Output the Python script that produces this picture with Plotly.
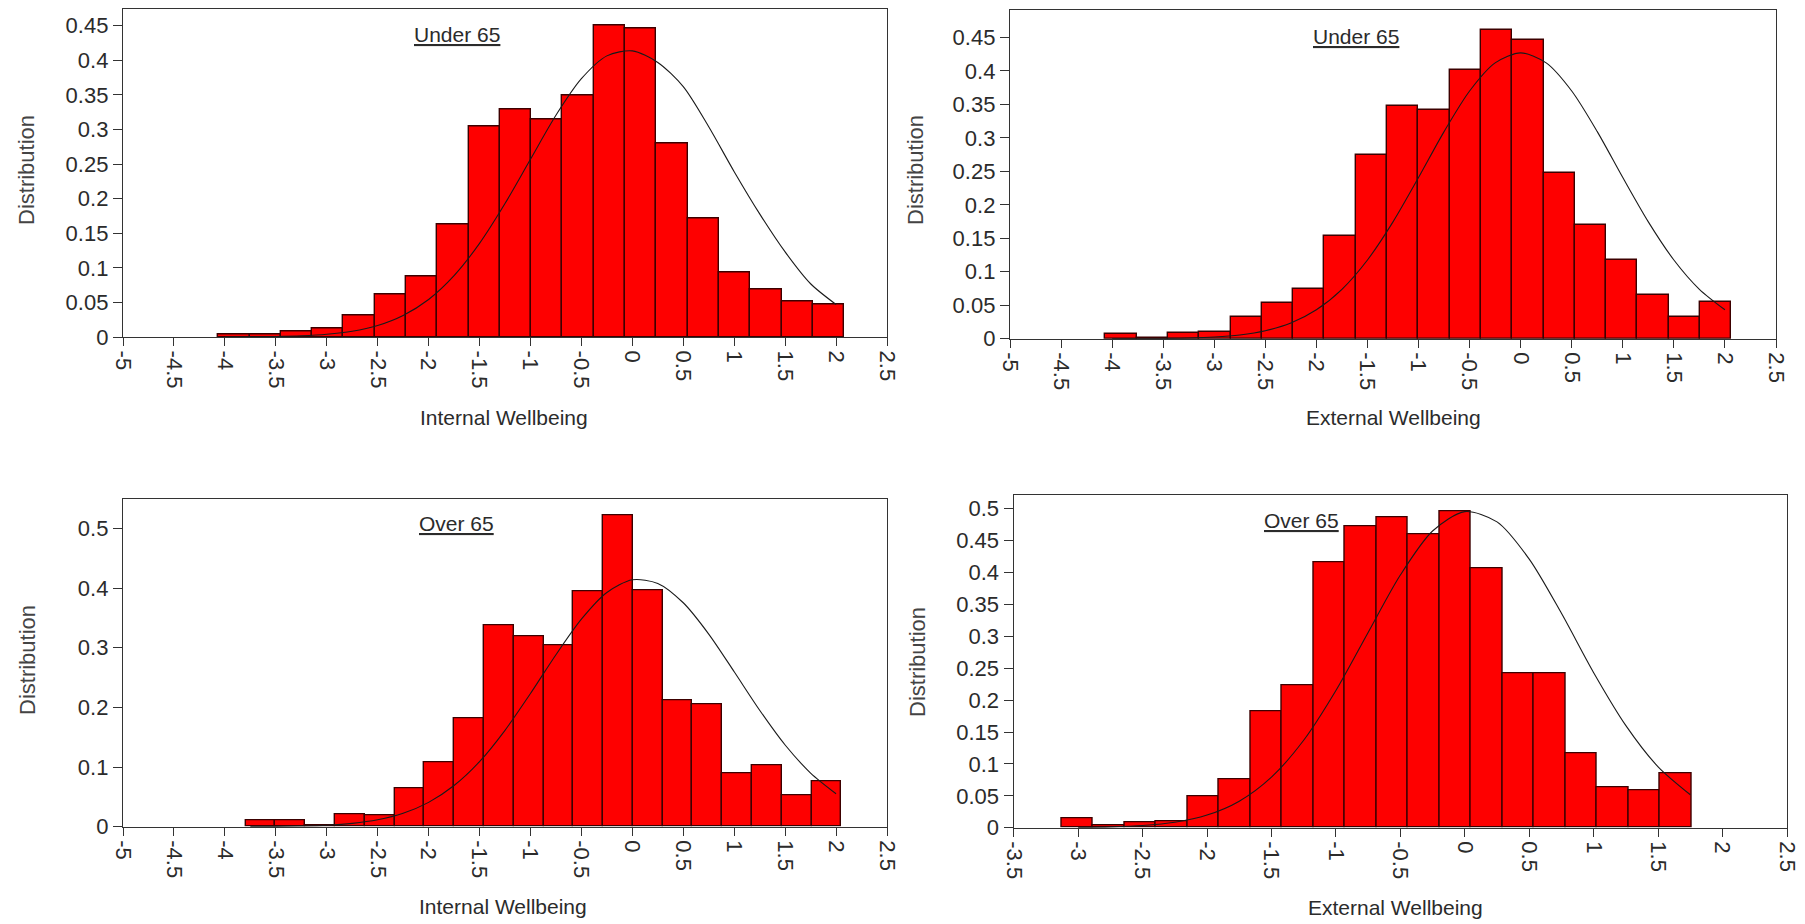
import plotly.graph_objects as go

# ---------------------------------------------------------------------------
# Data: histogram densities (20 equal-width bins per panel) and the fitted
# normal density curve drawn over each histogram.
# ---------------------------------------------------------------------------

# Internal wellbeing, under 65
int_u65_bin_start = -4.065
int_u65_bin_width = 0.3072
int_u65_density = [0.004, 0.003, 0.0077, 0.0126, 0.0304, 0.0609, 0.0874, 0.1633,
                   0.305, 0.329, 0.315, 0.349, 0.4507, 0.4464, 0.2793, 0.171,
                   0.0937, 0.0691, 0.0507, 0.0468]
int_u65_curve_x = [-4.0, -3.75, -3.5, -3.25, -3.0, -2.75, -2.5, -2.25, -2.0, -1.75,
                   -1.5, -1.25, -1.0, -0.75, -0.5, -0.25, 0.0, 0.25, 0.5, 0.75,
                   1.0, 1.25, 1.5, 1.75, 2.0]
int_u65_curve_y = [0.0001, 0.0003, 0.0007, 0.0017, 0.0039, 0.0083, 0.0167, 0.0312,
                   0.0543, 0.0888, 0.1354, 0.193, 0.257, 0.3206, 0.3735, 0.4065,
                   0.4137, 0.397, 0.362, 0.304, 0.239, 0.178, 0.123, 0.077, 0.047]

# External wellbeing, under 65
ext_u65_bin_start = -4.066
ext_u65_bin_width = 0.3064
ext_u65_density = [0.0065, 0.0015, 0.009, 0.0105, 0.032, 0.053, 0.074, 0.153,
                   0.274, 0.348, 0.3414, 0.401, 0.4609, 0.446, 0.2478, 0.1698,
                   0.1175, 0.0652, 0.032, 0.0543]
ext_u65_curve_x = [-4.0, -3.75, -3.5, -3.25, -3.0, -2.75, -2.5, -2.25, -2.0, -1.75,
                   -1.5, -1.25, -1.0, -0.75, -0.5, -0.25, 0.0, 0.25, 0.5, 0.75,
                   1.0, 1.25, 1.5, 1.75, 2.0]
ext_u65_curve_y = [0.00004, 0.0001, 0.0004, 0.001, 0.0025, 0.0056, 0.0119, 0.0234,
                   0.0432, 0.0738, 0.1176, 0.1745, 0.2407, 0.3093, 0.370, 0.412,
                   0.427, 0.412, 0.370, 0.3093, 0.2407, 0.1745, 0.1176, 0.0738, 0.0432]

# Internal wellbeing, over 65
int_o65_bin_start = -3.797
int_o65_bin_width = 0.2925
int_o65_density = [0.010, 0.010, 0.002, 0.020, 0.0196, 0.064, 0.1085, 0.182,
                   0.337, 0.319, 0.3037, 0.3943, 0.5218, 0.396, 0.2126, 0.2059,
                   0.0896, 0.1035, 0.052, 0.0755]
int_o65_curve_x = [-3.75, -3.5, -3.25, -3.0, -2.75, -2.5, -2.25, -2.0, -1.75, -1.5,
                   -1.25, -1.0, -0.75, -0.5, -0.25, 0.0, 0.25, 0.5, 0.75, 1.0,
                   1.25, 1.5, 1.75, 2.0]
int_o65_curve_y = [0.0002, 0.0004, 0.0011, 0.0025, 0.0056, 0.0116, 0.0225, 0.0408,
                   0.069, 0.109, 0.1616, 0.2233, 0.2884, 0.348, 0.3927, 0.414,
                   0.408, 0.3755, 0.323, 0.2598, 0.1953, 0.137, 0.090, 0.0553]

# External wellbeing, over 65
ext_o65_bin_start = -3.130
ext_o65_bin_width = 0.2444
ext_o65_density = [0.014, 0.0037, 0.0084, 0.0094, 0.0496, 0.0763, 0.183, 0.223,
                   0.4154, 0.4729, 0.4865, 0.4603, 0.4953, 0.406, 0.242, 0.242,
                   0.1166, 0.0627, 0.058, 0.0853]
ext_o65_curve_x = [-3.0, -2.75, -2.5, -2.25, -2.0, -1.75, -1.5, -1.25, -1.0, -0.75,
                   -0.5, -0.25, 0.0, 0.25, 0.5, 0.75, 1.0, 1.25, 1.5, 1.75]
ext_o65_curve_y = [0.0004, 0.0012, 0.0034, 0.0086, 0.0198, 0.0416, 0.0793, 0.137,
                   0.215, 0.306, 0.396, 0.465, 0.4954, 0.4794, 0.421, 0.336,
                   0.243, 0.160, 0.0954, 0.0516]

# Tick values and labels
x_ticks_wide = [-5, -4.5, -4, -3.5, -3, -2.5, -2, -1.5, -1, -0.5, 0, 0.5, 1, 1.5, 2, 2.5]
x_labels_wide = ["-5", "-4.5", "-4", "-3.5", "-3", "-2.5", "-2", "-1.5", "-1", "-0.5",
                 "0", "0.5", "1", "1.5", "2", "2.5"]
x_ticks_narrow = [-3.5, -3, -2.5, -2, -1.5, -1, -0.5, 0, 0.5, 1, 1.5, 2, 2.5]
x_labels_narrow = ["-3.5", "-3", "-2.5", "-2", "-1.5", "-1", "-0.5", "0", "0.5", "1",
                   "1.5", "2", "2.5"]
y_ticks_045 = [0, 0.05, 0.1, 0.15, 0.2, 0.25, 0.3, 0.35, 0.4, 0.45]
y_labels_045 = ["0", "0.05", "0.1", "0.15", "0.2", "0.25", "0.3", "0.35", "0.4", "0.45"]
y_ticks_05_coarse = [0, 0.1, 0.2, 0.3, 0.4, 0.5]
y_labels_05_coarse = ["0", "0.1", "0.2", "0.3", "0.4", "0.5"]
y_ticks_05_fine = [0, 0.05, 0.1, 0.15, 0.2, 0.25, 0.3, 0.35, 0.4, 0.45, 0.5]
y_labels_05_fine = ["0", "0.05", "0.1", "0.15", "0.2", "0.25", "0.3", "0.35", "0.4",
                    "0.45", "0.5"]

group_labels = ["Under 65", "Under 65", "Over 65", "Over 65"]
x_titles = ["Internal Wellbeing", "External Wellbeing", "Internal Wellbeing",
            "External Wellbeing"]
y_title = "Distribution"

# ---------------------------------------------------------------------------
# Page geometry (pixels) for the four plot frames
# ---------------------------------------------------------------------------
W, H = 1805, 924
FONT = "Liberation Sans, Arial, sans-serif"
TEXT = "#2b2b2b"
FRAME = "#333333"


def px_x(p):
    return p / W


def px_y(p):
    return 1 - p / H


panels = [
    dict(start=int_u65_bin_start, width=int_u65_bin_width, dens=int_u65_density,
         cx=int_u65_curve_x, cy=int_u65_curve_y,
         box=(123, 887, 8.5, 337), xr=(-5, 2.5), yr=(0, 0.475),
         xt=(x_ticks_wide, x_labels_wide), yt=(y_ticks_045, y_labels_045),
         label_at=(-1.72, 0.437), xtitle_at=(504, 418), ytitle_at=(27, 170)),
    dict(start=ext_u65_bin_start, width=ext_u65_bin_width, dens=ext_u65_density,
         cx=ext_u65_curve_x, cy=ext_u65_curve_y,
         box=(1010, 1776, 10, 338.7), xr=(-5, 2.5), yr=(0, 0.491),
         xt=(x_ticks_wide, x_labels_wide), yt=(y_ticks_045, y_labels_045),
         label_at=(-1.61, 0.452), xtitle_at=(1393, 418), ytitle_at=(916, 170)),
    dict(start=int_o65_bin_start, width=int_o65_bin_width, dens=int_o65_density,
         cx=int_o65_curve_x, cy=int_o65_curve_y,
         box=(123, 887, 499.3, 826.7), xr=(-5, 2.5), yr=(0, 0.549),
         xt=(x_ticks_wide, x_labels_wide), yt=(y_ticks_05_coarse, y_labels_05_coarse),
         label_at=(-1.73, 0.508), xtitle_at=(503, 906), ytitle_at=(27, 660)),
    dict(start=ext_o65_bin_start, width=ext_o65_bin_width, dens=ext_o65_density,
         cx=ext_o65_curve_x, cy=ext_o65_curve_y,
         box=(1013.7, 1787, 495.3, 827.7), xr=(-3.5, 2.5), yr=(0, 0.521),
         xt=(x_ticks_narrow, x_labels_narrow), yt=(y_ticks_05_fine, y_labels_05_fine),
         label_at=(-1.27, 0.481), xtitle_at=(1395, 907), ytitle_at=(917, 662)),
]

fig = go.Figure()
annotations = []
layout_axes = {}

for i, p in enumerate(panels, start=1):
    xa = "x" if i == 1 else f"x{i}"
    ya = "y" if i == 1 else f"y{i}"
    centers = [p["start"] + p["width"] * (k + 0.5) for k in range(len(p["dens"]))]

    fig.add_trace(go.Bar(
        x=centers, y=p["dens"], width=p["width"],
        marker=dict(color="#fe0000", line=dict(color="#3c0000", width=1.4)),
        xaxis=xa, yaxis=ya, showlegend=False, hoverinfo="x+y",
    ))
    fig.add_trace(go.Scatter(
        x=p["cx"], y=p["cy"], mode="lines",
        line=dict(color="#1a1a1a", width=1.1, shape="spline", smoothing=0.8),
        xaxis=xa, yaxis=ya, showlegend=False, hoverinfo="skip",
    ))

    x0, x1, ytop, ybot = p["box"]
    axis_common = dict(
        showline=True, mirror=True, linecolor=FRAME, linewidth=1.4,
        showgrid=False, zeroline=False, ticks="outside", tickcolor=FRAME,
        tickwidth=1.2, tickfont=dict(family=FONT, size=22, color=TEXT),
        automargin=False,
    )
    layout_axes["xaxis" if i == 1 else f"xaxis{i}"] = dict(
        axis_common, domain=[px_x(x0), px_x(x1)], range=list(p["xr"]),
        anchor=ya, tickmode="array", tickvals=p["xt"][0], ticktext=p["xt"][1],
        tickangle=90, ticklen=8,
    )
    layout_axes["yaxis" if i == 1 else f"yaxis{i}"] = dict(
        axis_common, domain=[px_y(ybot), px_y(ytop)], range=list(p["yr"]),
        anchor=xa, tickmode="array", tickvals=p["yt"][0], ticktext=p["yt"][1],
        ticklen=9,
    )

    # Group label, underlined, inside the frame
    annotations.append(dict(
        x=p["label_at"][0], y=p["label_at"][1], xref=xa, yref=ya,
        text=f"<u>{group_labels[i - 1]}</u>", showarrow=False,
        font=dict(family=FONT, size=21, color=TEXT),
        xanchor="center", yanchor="middle",
    ))
    # Axis titles
    annotations.append(dict(
        x=px_x(p["xtitle_at"][0]), y=px_y(p["xtitle_at"][1]), xref="paper", yref="paper",
        text=x_titles[i - 1], showarrow=False,
        font=dict(family=FONT, size=21, color=TEXT),
        xanchor="center", yanchor="middle",
    ))
    annotations.append(dict(
        x=px_x(p["ytitle_at"][0]), y=px_y(p["ytitle_at"][1]), xref="paper", yref="paper",
        text=y_title, showarrow=False, textangle=-90,
        font=dict(family=FONT, size=22, color="#444444"),
        xanchor="center", yanchor="middle",
    ))

fig.update_layout(
    width=W, height=H,
    margin=dict(l=0, r=0, t=0, b=0, autoexpand=False),
    paper_bgcolor="white", plot_bgcolor="white",
    bargap=0, annotations=annotations,
    **layout_axes,
)

fig.write_html("out.html")
